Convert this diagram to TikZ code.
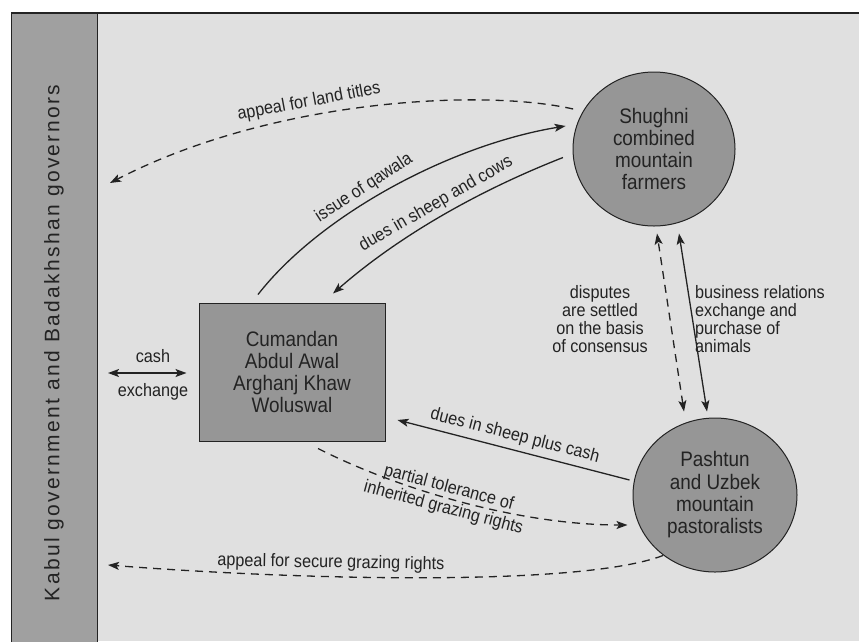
\documentclass[tikz,border=0pt]{standalone}
\usepackage{fontspec}
\setmainfont{Liberation Sans}[FakeStretch=0.9]
\newfontfamily\sidefont{Liberation Sans}[LetterSpace=11]
\usetikzlibrary{arrows.meta,shapes.geometric,calc}
\definecolor{bgc}{RGB}{224,224,224}
\definecolor{sidec}{RGB}{160,160,160}
\definecolor{fillc}{RGB}{150,150,150}
\definecolor{ink}{RGB}{35,35,35}
\begin{document}
\begin{tikzpicture}[x=1pt,y=-1pt,
  lbl/.style={font=\fontsize{18}{18}\selectfont, inner sep=0pt, align=center, text=ink},
  con/.style={line width=1.3pt, draw=ink, -{Stealth[length=11pt,width=8pt,inset=2.5pt]}},
  con2/.style={line width=1.3pt, draw=ink, {Stealth[length=11pt,width=8pt,inset=2.5pt]}-{Stealth[length=11pt,width=8pt,inset=2.5pt]}},
  dsh/.style={dash pattern=on 8pt off 6pt},
  big/.style={font=\fontsize{21}{22.3}\selectfont, align=center, text=ink, fill=fillc, draw=ink, line width=1pt, inner sep=0pt}
]
\useasboundingbox (0,0) rectangle (859,641);
\fill[bgc] (11,13) rectangle (859,641);
\draw[ink, line width=2pt] (11,13) -- (859,13);
\node[draw=ink, line width=1.2pt, fill=sidec, minimum width=86pt, minimum height=640pt, anchor=north west, inner sep=0pt] (gov) at (11,13) {};
\node[rotate=90, text=ink, font=\sidefont\fontsize{21}{21}\selectfont] (govtext) at (54,343) {Kabul government and Badakhshan governors};

\node[big, minimum width=186pt, minimum height=138pt] (cum) at (292,372) {Cumandan\\Abdul Awal\\Arghanj Khaw\\Woluswal};
\node[big, ellipse, minimum width=162pt, minimum height=154pt] (shug) at (654,149) {Shughni\\combined\\mountain\\farmers};
\node[big, ellipse, minimum width=164pt, minimum height=154pt] (pash) at (715,495) {Pashtun\\and Uzbek\\mountain\\pastoralists};

\coordinate (g1) at (110,183);
\coordinate (g2) at (108,373);
\coordinate (g3) at (108,565);

% connectors
\draw[con,dsh,shorten <=10pt] (shug.152) .. controls (480,88) and (270,100) .. (g1);
\draw[con] ($(cum.north)+(-34,-8)$) .. controls (320,215) and (450,145) .. ($(shug.165)+(-10,-2)$);
\draw[con] ($(shug.186)+(-10,0)$) .. controls (480,190) and (400,235) .. ($(cum.north)+(41,-9)$);
\draw[con2,dsh] ($(pash.north)+(-31,-6)$) -- ($(shug.south)+(3,7)$);
\draw[con2] ($(pash.north)+(-8,-6)$) -- ($(shug.south)+(25,7)$);
\draw[con] ($(pash.west)+(-3,-15)$) -- ($(cum.east)+(12,48)$);
\draw[con,dsh] ($(cum.south)+(26,7)$) .. controls (400,490) and (520,525) .. ($(pash.west)+(-5,30)$);
\draw[con,dsh] ($(pash.south)+(-52,-17)$) .. controls (580,587) and (300,580) .. (g3);
\draw[con2] (g2) -- ($(cum.west)+(-12,1)$);

% labels
\node[lbl, rotate=10.5] (t1) at (309,102) {appeal for land titles};
\node[lbl, rotate=33] (t2) at (364,188) {issue of qawala};
\node[lbl, rotate=30] (t3) at (436,204) {dues in sheep and cows};
\node[lbl] (t4) at (600,319) {disputes\\are settled\\on the basis\\of consensus};
\node[lbl, align=left, anchor=west] (t5) at (695,319) {business relations\\exchange and\\purchase of\\animals};
\node[lbl, rotate=-14.5] (t6) at (515,436) {dues in sheep plus cash};
\node[lbl, rotate=-15] (t7) at (446,498) {partial tolerance of\\[3pt]inherited grazing rights};
\node[lbl, rotate=-1] (t8) at (331,563) {appeal for secure grazing rights};
\node[lbl] (t9) at (153,356) {cash};
\node[lbl] (t10) at (153,392) {exchange};
\end{tikzpicture}
\end{document}
